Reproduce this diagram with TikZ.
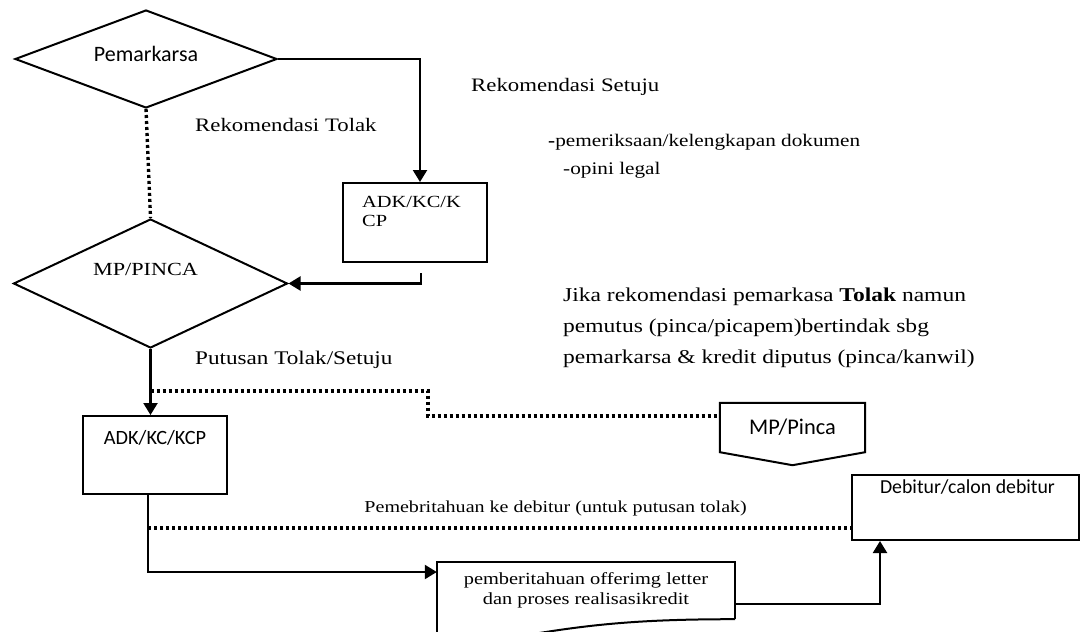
\documentclass[tikz,border=0pt]{standalone}
\usepackage{fontspec}
\setmainfont[FakeStretch=1.2]{Liberation Serif}
\newfontfamily\boxsans{Carlito}
\usetikzlibrary{shapes.geometric,arrows.meta}

\newcommand{\fs}[1]{\fontsize{#1}{1.2\dimexpr#1pt\relax}\selectfont}

\tikzset{
  arr/.style={line width=2.2pt, -{Triangle[length=12pt,width=14pt]}},
  dotline/.style={line width=3.4pt, dash pattern=on 3pt off 3pt},
  outline/.style={line width=2pt},
  decision/.style={diamond, draw, line width=2pt, inner sep=0pt},
  proc/.style={rectangle, draw, line width=2pt, inner sep=0pt},
  ghost/.style={rectangle, inner sep=0pt},
  lbl/.style={inner sep=0pt},
}

\begin{document}
\begin{tikzpicture}[x=1pt,y=-1pt]
\fill[white] (0,0) rectangle (1080,632);
\clip (0,0) rectangle (1080,632);

% decisions
\node[decision, minimum width=262pt, minimum height=98pt,
      label={[lbl,font=\boxsans\fs{22},yshift=5.5pt]center:Pemarkarsa}] (pem) at (146,59) {};
\node[decision, minimum width=274pt, minimum height=129pt,
      label={[lbl,font=\fs{18.5},yshift=14pt,xshift=-5pt]center:MP/PINCA}] (mp) at (150.5,283.5) {};

% process boxes
\node[proc, minimum width=144pt, minimum height=79pt,
      label={[lbl,font=\fs{17},align=left,anchor=north west,xshift=20pt,yshift=-14pt]north west:ADK/KC/K\\[-1pt]CP}] (adk1) at (415,222.5) {};
\node[proc, minimum width=144pt, minimum height=78pt,
      label={[lbl,font=\boxsans\fs{20.3},yshift=17.5pt]center:ADK/KC/KCP}] (adk2) at (155,455) {};
\node[proc, minimum width=227pt, minimum height=65pt,
      label={[lbl,font=\boxsans\fs{19.8},yshift=20pt,xshift=2pt]center:Debitur/calon debitur}] (deb) at (965.5,507.5) {};

% off-page connector
\node[ghost, minimum width=145pt, minimum height=49pt, font=\boxsans\fs{22.4}] (mpp) at (792.5,427.5) {MP/Pinca};
\draw[outline] (mpp.north west) -- (mpp.north east) -- (mpp.south east)
  -- ([yshift=-13pt]mpp.south) -- (mpp.south west) -- cycle;

% document shape
\node[ghost, minimum width=298pt, minimum height=57pt, font=\fs{17}, align=center]
  (offer) at (586,590.5) {pemberitahuan offerimg letter\\[-1pt]dan proses realisasikredit};
\draw[outline] (offer.south east) -- (offer.north east) -- (offer.north west)
  -- ([yshift=-60pt]offer.south west);
\draw[outline] (offer.south east)
  .. controls ([xshift=-95pt]offer.south east) and ([xshift=-145pt,yshift=-5pt]offer.south east)
  .. ([xshift=-215pt,yshift=-17pt]offer.south east);

% connectors
\draw[arr] (pem.east) -| ([xshift=5pt]adk1.north);
\draw[arr] ([xshift=6pt,yshift=-10pt]adk1.south) |- (mp.east);
\draw[dotline] (pem.south) -- (mp.north);
\draw[arr] (mp.south) -- (mp.south |- adk2.north);

\coordinate (tap1) at (150.5,391);
\coordinate (bend1) at (428,391);
\draw[dotline] (tap1) -- (bend1) |- ([yshift=11.5pt]mpp.west);

\draw[arr] ([xshift=-7pt]adk2.south) |- ([yshift=18.5pt]offer.west);
\coordinate (tap2) at (148,528);
\draw[dotline] (tap2) -- (tap2 -| deb.west);
\draw[arr] ([yshift=-13.5pt]offer.east) -| ([xshift=-85.5pt]deb.south);

% annotations
\node[lbl, anchor=west, font=\fs{19}] (rtolak) at (195,125) {Rekomendasi Tolak};
\node[lbl, anchor=west, font=\fs{19}] (rsetuju) at (471,87) {Rekomendasi Setuju};
\node[lbl, anchor=west, font=\fs{17.7}] (periksa) at (548,142) {\textbf{-}pemeriksaan/kelengkapan dokumen};
\node[lbl, anchor=west, font=\fs{17.7}] (opini) at (563,170) {-opini legal};
\node[lbl, anchor=base west, font=\fs{19.6}] (jika1) at (563,301) {Jika rekomendasi pemarkasa \textbf{Tolak} namun};
\node[lbl, anchor=base west, font=\fs{19.6}] (jika2) at (563,332) {pemutus (pinca/picapem)bertindak sbg};
\node[lbl, anchor=base west, font=\fs{19.6}] (jika3) at (563,363) {pemarkarsa \& kredit diputus (pinca/kanwil)};
\node[lbl, anchor=west, font=\fs{19.3}] (putusan) at (195,360) {Putusan Tolak/Setuju};
\node[lbl, anchor=east, font=\fs{16.7}] (pemberi) at (747,508) {Pemebritahuan ke debitur (untuk putusan tolak)};
\end{tikzpicture}
\end{document}
